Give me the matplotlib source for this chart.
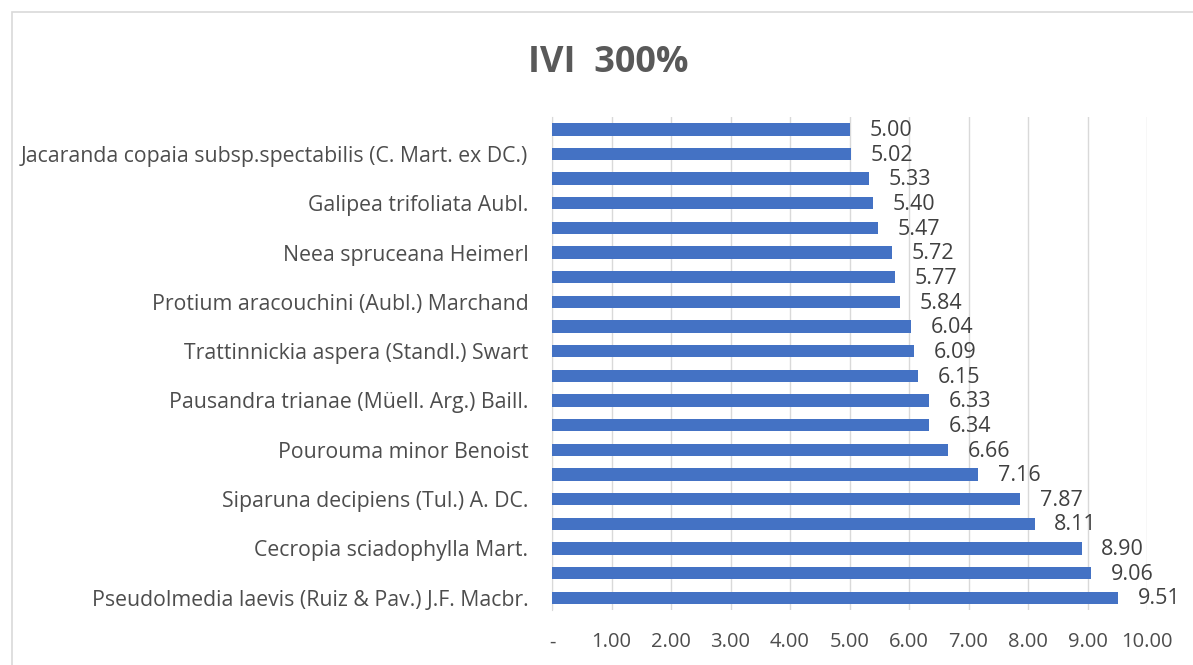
import matplotlib.pyplot as plt
from matplotlib.patches import Rectangle

# species, bottom to top (only every other label is shown in the original)
species = [
    "Pseudolmedia laevis (Ruiz & Pav.) J.F. Macbr.", "",
    "Cecropia sciadophylla Mart.", "",
    "Siparuna decipiens (Tul.) A. DC.", "",
    "Pourouma minor Benoist", "",
    "Pausandra trianae (Müell. Arg.) Baill.", "",
    "Trattinnickia aspera (Standl.) Swart", "",
    "Protium aracouchini (Aubl.) Marchand", "",
    "Neea spruceana Heimerl", "",
    "Galipea trifoliata Aubl.", "",
    "Jacaranda copaia subsp.spectabilis (C. Mart. ex DC.)", "",
]
ivi = [9.51, 9.06, 8.90, 8.11, 7.87, 7.16, 6.66, 6.34, 6.33, 6.15,
       6.09, 6.04, 5.84, 5.77, 5.72, 5.47, 5.40, 5.33, 5.02, 5.00]
xticks = [0, 1, 2, 3, 4, 5, 6, 7, 8, 9, 10]
xtick_labels = ["-", "1.00", "2.00", "3.00", "4.00", "5.00",
                "6.00", "7.00", "8.00", "9.00", "10.00"]

plt.rcParams['font.family'] = ['Open Sans', 'DejaVu Sans']

fig = plt.figure(figsize=(11.93, 6.65), dpi=100)
ax = fig.add_axes([0.4627, 0.0827, 0.4988, 0.7413])

pos = list(range(len(ivi)))
ax.barh(pos, ivi, height=0.5, color="#4472C4", zorder=3)
for p, v in zip(pos, ivi):
    ax.text(v + 0.33, p - 0.05, "{:.2f}".format(v), va="center", ha="left",
            fontsize=15.5, color="#404040", clip_on=False)

ax.set_ylim(-0.5, len(ivi) - 0.5)
ax.set_xlim(0, 10)
ax.set_yticks(pos)
ax.set_yticklabels(species, fontsize=15.3, color="#4D4D4D")
ax.set_xticks(xticks)
ax.set_xticklabels(xtick_labels, fontsize=14.5, color="#4D4D4D")
ax.tick_params(axis="y", length=0, pad=17)
ax.tick_params(axis="x", length=0, pad=16)
ax.grid(axis="x", color="#D9D9D9", linewidth=1, zorder=0)
for s in ["top", "right", "bottom"]:
    ax.spines[s].set_visible(False)
ax.spines["left"].set_color("#D9D9D9")

fig.text(0.51, 0.905, "IVI  300%", ha="center", va="center",
         fontsize=26, fontweight="bold", color="#595959")

fig.patches.append(Rectangle((0.01, -0.02), 1.0, 1 - 12 / 665 + 0.02,
                             transform=fig.transFigure, fill=False,
                             edgecolor="#D9D9D9", linewidth=1.2))

fig.savefig("out.png", dpi=100)
